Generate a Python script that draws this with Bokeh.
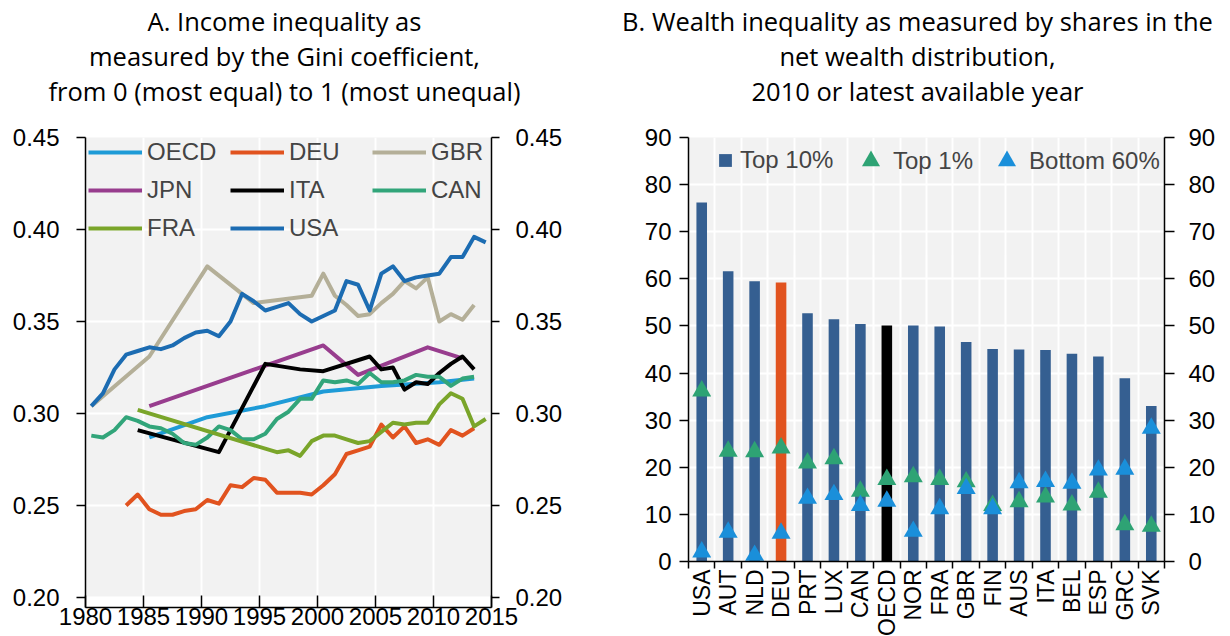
import math
from bokeh.plotting import figure
from bokeh.models import (Range1d, FactorRange, LinearAxis, CategoricalAxis, FixedTicker,
                          NumeralTickFormatter, Legend, LegendItem, BoxAnnotation,
                          Div, Spacer)
from bokeh.transform import dodge
from bokeh.layouts import row, column
from bokeh.embed import file_html
from bokeh.resources import INLINE

AX_FONT = "Liberation Sans"
TITLE_FONT = "Open Sans"

# ---------------- Panel A data (Gini coefficients) ----------------
usa_years = list(range(1980, 2015))
usa = [0.304, 0.311, 0.324, 0.332, 0.334, 0.336, 0.335, 0.337, 0.341, 0.344,
       0.345, 0.342, 0.350, 0.365, 0.361, 0.356, 0.358, 0.360, 0.354, 0.350,
       0.353, 0.356, 0.372, 0.370, 0.356, 0.376, 0.380, 0.372, 0.374, 0.375,
       0.376, 0.385, 0.385, 0.396, 0.393]

deu_years = list(range(1983, 2014))
deu = [0.250, 0.256, 0.248, 0.245, 0.245, 0.247, 0.248, 0.253, 0.251, 0.261,
       0.260, 0.265, 0.264, 0.257, 0.257, 0.257, 0.256, 0.261, 0.267, 0.278,
       0.280, 0.282, 0.294, 0.287, 0.293, 0.284, 0.286, 0.283, 0.291, 0.288,
       0.292]

can_years = list(range(1980, 2014))
can = [0.288, 0.287, 0.291, 0.298, 0.296, 0.293, 0.292, 0.289, 0.284, 0.283,
       0.287, 0.293, 0.291, 0.286, 0.286, 0.289, 0.297, 0.301, 0.308, 0.308,
       0.318, 0.317, 0.318, 0.316, 0.322, 0.317, 0.317, 0.318, 0.321, 0.320,
       0.320, 0.315, 0.319, 0.320]

fra_years = [1984, 1996, 1997, 1998] + list(range(1999, 2015))
fra = [0.302, 0.279, 0.280, 0.277,
       0.285, 0.288, 0.288, 0.286, 0.284, 0.285, 0.290, 0.295, 0.294, 0.295,
       0.295, 0.305, 0.311, 0.308, 0.293, 0.297]

ita_years = [1984, 1991, 1995, 1998, 2000, 2004] + list(range(2005, 2014))
ita = [0.291, 0.279, 0.327, 0.324, 0.323, 0.331,
       0.324, 0.325, 0.313, 0.317, 0.316, 0.322, 0.327, 0.331, 0.324]

jpn_years = [1985, 2000, 2003, 2009, 2012]
jpn = [0.304, 0.337, 0.321, 0.336, 0.330]

gbr_years = [1980, 1985, 1990, 1994] + list(range(1999, 2014))
gbr = [0.304, 0.331, 0.380, 0.360,
       0.364, 0.376, 0.364, 0.359, 0.353, 0.354, 0.360, 0.365, 0.372, 0.368,
       0.374, 0.350, 0.354, 0.351, 0.359]

oecd_years = [1985, 1990, 1995, 2000, 2005, 2010, 2013]
oecd = [0.287, 0.298, 0.304, 0.312, 0.315, 0.317, 0.319]

year_ticks = [1980, 1985, 1990, 1995, 2000, 2005, 2010, 2015]
gini_ticks = [0.20, 0.25, 0.30, 0.35, 0.40, 0.45]

title_a = ["A. Income inequality as",
           "measured by the Gini coefficient,",
           "from 0 (most equal) to 1 (most unequal)"]
title_b = ["B. Wealth inequality as measured by shares in the",
           "net wealth distribution,",
           "2010 or latest available year"]

# ---------------- Panel B data (wealth shares) ----------------
countries = ["USA", "AUT", "NLD", "DEU", "PRT", "LUX", "CAN", "OECD", "NOR",
             "FRA", "GBR", "FIN", "AUS", "ITA", "BEL", "ESP", "GRC", "SVK"]
top10 = [76.2, 61.6, 59.5, 59.2, 52.7, 51.4, 50.4, 50.1, 50.1,
         49.9, 46.6, 45.1, 45.0, 44.9, 44.1, 43.5, 38.9, 33.0]
top1 = [36.8, 24.0, 23.9, 24.7, 21.5, 22.4, 15.5, 18.0, 18.6,
        18.0, 17.5, 12.5, 13.3, 14.3, 12.6, 15.3, 8.4, 8.1]
bottom60 = [2.6, 6.8, 1.9, 6.6, 14.0, 14.8, 12.5, 13.4, 7.0,
            11.8, 16.1, 11.8, 17.3, 17.6, 17.2, 20.0, 20.2, 28.9]
wealth_ticks = [0, 10, 20, 30, 40, 50, 60, 70, 80, 90]

BAR = "#355F91"
bar_colors = [("#000000" if c == "OECD" else "#E1531F" if c == "DEU" else BAR)
              for c in countries]


def style_axis(ax, size="24px"):
    ax.axis_line_color = "black"
    ax.axis_line_width = 1.5
    ax.major_tick_line_color = "black"
    ax.major_tick_line_width = 1.5
    ax.minor_tick_line_color = None
    ax.major_label_text_font = AX_FONT
    ax.major_label_text_font_size = size
    ax.major_label_text_color = "black"
    ax.major_tick_in = 0


def title_div(lines, width):
    html = ('<div style="width: %dpx; font-family: \'Open Sans\'; '
            'font-size: 25.5px; line-height: 35px; text-align: center; '
            'white-space: nowrap; color: black; padding-top: 4px; margin: 0;">'
            % width + "<br>".join(lines) + "</div>")
    return Div(text=html, width=width, height=122, margin=0)


# ======================= Panel A =======================
p1 = figure(frame_width=406, frame_height=470,
            x_range=Range1d(1979.5, 2014.5), y_range=Range1d(0.1946, 0.45),
            output_backend="svg", toolbar_location=None,
            min_border_left=85, min_border_right=129,
            min_border_top=15, min_border_bottom=29)
p1.background_fill_color = "#F2F2F2"
p1.border_fill_color = "white"
p1.outline_line_color = None

p1.add_layout(BoxAnnotation(top=0.20, fill_color="white", fill_alpha=1.0,
                            line_color=None, level="underlay"))

series = [("OECD", oecd_years, oecd, "#1E9BD7"),
          ("DEU", deu_years, deu, "#E1531F"),
          ("GBR", gbr_years, gbr, "#B4AF98"),
          ("JPN", jpn_years, jpn, "#983D8E"),
          ("ITA", ita_years, ita, "#000000"),
          ("CAN", can_years, can, "#32A57A"),
          ("FRA", fra_years, fra, "#7AA52A"),
          ("USA", usa_years, usa, "#1C6CB2")]
items = []
for name, xs, ys, col in series:
    r = p1.line(xs, ys, line_color=col, line_width=4, line_join="round")
    items.append(LegendItem(label=name, renderers=[r]))

x_tick_pos = [y - 0.5 for y in year_ticks]
xax = p1.xaxis[0]
xax.ticker = FixedTicker(ticks=x_tick_pos)
xax.major_label_overrides = {tp: str(y) for tp, y in zip(x_tick_pos, year_ticks)}
yax = p1.yaxis[0]
yax.ticker = FixedTicker(ticks=gini_ticks)
yax.formatter = NumeralTickFormatter(format="0.00")
yax_r = LinearAxis(ticker=FixedTicker(ticks=gini_ticks),
                   formatter=NumeralTickFormatter(format="0.00"))
p1.add_layout(yax_r, "right")

for ax in [xax, yax, yax_r]:
    style_axis(ax)
xax.major_tick_in = 12
xax.major_tick_out = 0
xax.major_label_standoff = 0
yax.major_tick_out = 9
yax.major_label_standoff = 17
yax_r.major_tick_out = 8
yax_r.major_label_standoff = 16

p1.xgrid.grid_line_color = "white"
p1.xgrid.grid_line_width = 2
p1.ygrid.grid_line_color = "white"
p1.ygrid.grid_line_width = 2

leg1 = Legend(items=items, orientation="horizontal", ncols=3,
              location=(3, 365), padding=0, margin=0, spacing=10,
              glyph_width=54, glyph_height=28, label_height=28,
              label_width=73, label_standoff=5,
              label_text_font=AX_FONT, label_text_font_size="24px",
              background_fill_alpha=0, border_line_color=None)
p1.add_layout(leg1)

# ======================= Panel B =======================
p2 = figure(frame_width=476, frame_height=424,
            x_range=FactorRange(*countries), y_range=Range1d(0, 90),
            x_axis_location=None,
            output_backend="svg", toolbar_location=None,
            min_border_left=68, min_border_right=52,
            min_border_top=15, min_border_bottom=20)
p2.background_fill_color = "#F2F2F2"
p2.border_fill_color = "white"
p2.outline_line_color = None

rb = p2.vbar(x=countries, top=top10, width=0.4, fill_color=bar_colors,
             line_color=None)
rb_leg = p2.vbar(x=countries[:1], top=[0], width=0.4, fill_color=BAR,
                 line_color=None, visible=False)
src = dict(c=countries, t1=top1, b60=bottom60)
r1 = p2.scatter(x="c", y=dodge("t1", -0.6, range=p2.y_range), source=src,
                marker="triangle", size=19, fill_color="#2EA374",
                line_color=None)
r2 = p2.scatter(x="c", y=dodge("b60", -0.6, range=p2.y_range), source=src,
                marker="triangle", size=19, fill_color="#1A8FDA",
                line_color=None)

yl = p2.yaxis[0]
yl.ticker = FixedTicker(ticks=wealth_ticks)
yr = LinearAxis(ticker=FixedTicker(ticks=wealth_ticks))
p2.add_layout(yr, "right")
tick_ax = LinearAxis(ticker=FixedTicker(ticks=list(range(0, 19))),
                     major_label_overrides={i: "" for i in range(0, 19)})
p2.add_layout(tick_ax, "below")
cat_ax = CategoricalAxis()
p2.add_layout(cat_ax, "below")

for ax in [yl, yr, tick_ax, cat_ax]:
    style_axis(ax)
yl.major_tick_out = 9
yl.major_label_standoff = 8
yr.major_tick_out = 10
yr.major_label_standoff = 14
tick_ax.major_tick_out = 7
tick_ax.major_label_standoff = 0
tick_ax.major_label_text_font_size = "0px"
cat_ax.axis_line_color = None
cat_ax.major_tick_line_color = None
cat_ax.major_tick_out = 0
cat_ax.major_label_standoff = 1
cat_ax.major_label_orientation = math.pi / 2
cat_ax.major_label_text_font_size = "23px"

p2.xgrid.ticker = FixedTicker(ticks=list(range(1, 18)))
p2.xgrid.grid_line_color = "white"
p2.xgrid.grid_line_width = 2
p2.ygrid.grid_line_color = "white"
p2.ygrid.grid_line_width = 2

leg2a = Legend(items=[LegendItem(label="Top 10%", renderers=[rb_leg])],
               orientation="horizontal", location=(29, 387),
               padding=0, margin=0, spacing=0,
               glyph_width=16, glyph_height=16, label_height=28,
               label_standoff=7,
               label_text_font=AX_FONT, label_text_font_size="24px",
               background_fill_alpha=0, border_line_color=None)
leg2b = Legend(items=[LegendItem(label="Top 1%", renderers=[r1]),
                      LegendItem(label="Bottom 60%", renderers=[r2])],
               orientation="horizontal", location=(160, 378),
               padding=0, margin=0, spacing=11,
               glyph_width=45, glyph_height=45, label_height=28,
               label_standoff=-8,
               label_text_font=AX_FONT, label_text_font_size="24px",
               background_fill_alpha=0, border_line_color=None)
p2.add_layout(leg2a)
p2.add_layout(leg2b)

titles = row(title_div(title_a, 569), Spacer(width=36, height=122),
             title_div(title_b, 625))
layout = column(titles, row(p1, p2))
open("out.html", "w").write(file_html(layout, INLINE))
